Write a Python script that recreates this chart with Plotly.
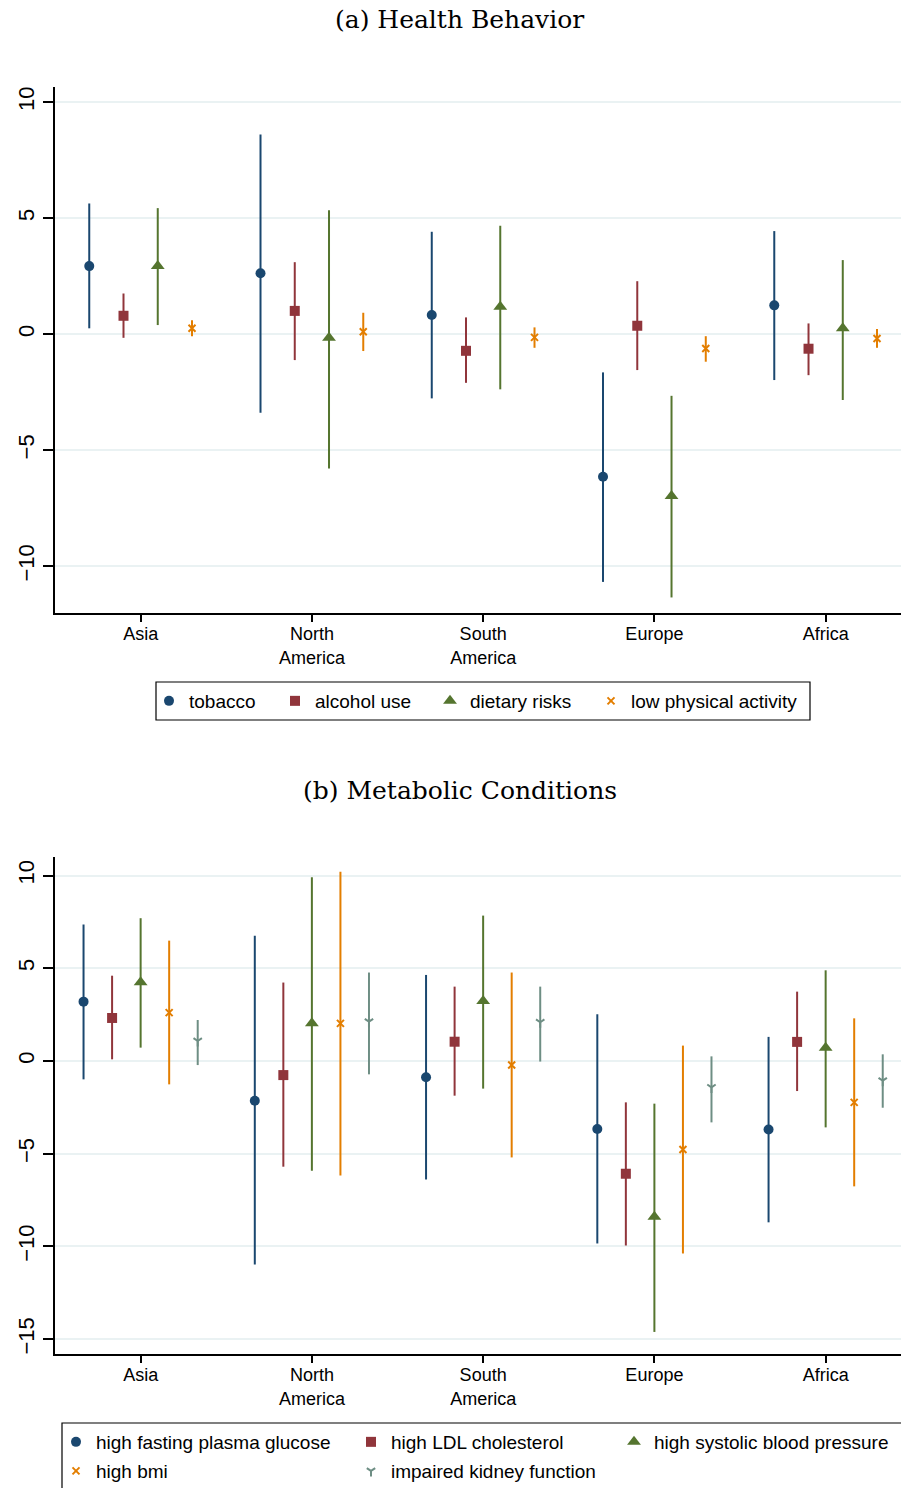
import numpy as np
import plotly.graph_objects as go

# ---------------- data ----------------
regions = ["Asia", "North<br>America", "South<br>America", "Europe", "Africa"]

# (a) Health Behavior
tobacco_est = [2.93, 2.62, 0.82, -6.15, 1.24]
tobacco_lo = [0.25, -3.39, -2.77, -10.68, -1.98]
tobacco_hi = [5.63, 8.60, 4.41, -1.65, 4.44]
alcohol_est = [0.79, 1.00, -0.72, 0.36, -0.63]
alcohol_lo = [-0.16, -1.12, -2.10, -1.55, -1.77]
alcohol_hi = [1.75, 3.10, 0.72, 2.28, 0.46]
dietary_est = [2.93, -0.16, 1.18, -6.98, 0.25]
dietary_lo = [0.39, -5.79, -2.38, -11.35, -2.84]
dietary_hi = [5.43, 5.34, 4.67, -2.66, 3.19]
activity_est = [0.25, 0.10, -0.14, -0.62, -0.19]
activity_lo = [-0.09, -0.73, -0.59, -1.19, -0.59]
activity_hi = [0.60, 0.92, 0.29, -0.09, 0.22]

# (b) Metabolic Conditions
glucose_est = [3.20, -2.14, -0.88, -3.67, -3.69]
glucose_lo = [-0.99, -10.97, -6.39, -9.84, -8.70]
glucose_hi = [7.36, 6.75, 4.64, 2.52, 1.30]
ldl_est = [2.32, -0.76, 1.04, -6.08, 1.03]
ldl_lo = [0.09, -5.70, -1.87, -9.95, -1.62]
ldl_hi = [4.60, 4.23, 4.01, -2.23, 3.74]
sbp_est = [4.25, 2.03, 3.24, -8.40, 0.72]
sbp_lo = [0.72, -5.92, -1.49, -14.61, -3.58]
sbp_hi = [7.70, 9.91, 7.84, -2.30, 4.89]
bmi_est = [2.61, 2.03, -0.22, -4.77, -2.23]
bmi_lo = [-1.26, -6.17, -5.20, -10.38, -6.76]
bmi_hi = [6.49, 10.20, 4.77, 0.83, 2.30]
kidney_est = [1.08, 2.12, 2.09, -1.42, -1.06]
kidney_lo = [-0.22, -0.72, -0.03, -3.31, -2.52]
kidney_hi = [2.21, 4.77, 4.01, 0.25, 0.36]

# ---------------- styles ----------------
NAVY = "#1a476f"
MAROON = "#90353b"
GREEN = "#55752f"
ORANGE = "#e37e00"
TEAL = "#6e8e84"
REF = "#a8d8e6"
GRID = "#eaf2f3"
SANS = "Liberation Sans, Arial, sans-serif"
SERIF = "DejaVu Serif, serif"

W, H = 901, 1488
base = np.arange(1, len(regions) + 1)

fig = go.Figure()


def add_series(name, est, lo, hi, offset, color, symbol, size, xa, ya, legend, lw,
               line_sym=False):
    est = np.array(est)
    lo = np.array(lo)
    hi = np.array(hi)
    marker = dict(color=color, symbol=symbol, size=size)
    if line_sym:
        marker["line"] = dict(color=color, width=2)
    else:
        marker["line"] = dict(width=0)
    fig.add_trace(go.Scatter(
        x=base + offset, y=est, mode="markers", name=name,
        marker=marker,
        error_y=dict(type="data", symmetric=False, array=hi - est,
                     arrayminus=est - lo, thickness=2, width=0, color=color),
        xaxis=xa, yaxis=ya, legend=legend, legendwidth=lw,
        hoverinfo="skip",
    ))


# top panel
add_series("tobacco", tobacco_est, tobacco_lo, tobacco_hi, -0.3, NAVY, "circle", 10, "x", "y", "legend", 81)
add_series("alcohol use", alcohol_est, alcohol_lo, alcohol_hi, -0.1, MAROON, "square", 10, "x", "y", "legend", 110)
add_series("dietary risks", dietary_est, dietary_lo, dietary_hi, 0.1, GREEN, "triangle-up", 12, "x", "y", "legend", 116)
add_series("low physical activity", activity_est, activity_lo, activity_hi, 0.3, ORANGE, "x-thin", 7, "x", "y", "legend", 175, True)

# bottom panel
add_series("high fasting plasma glucose", glucose_est, glucose_lo, glucose_hi, -1/3, NAVY, "circle", 10, "x2", "y2", "legend2", 250)
add_series("high LDL cholesterol", ldl_est, ldl_lo, ldl_hi, -1/6, MAROON, "square", 10, "x2", "y2", "legend2", 218)
add_series("high systolic blood pressure", sbp_est, sbp_lo, sbp_hi, 0.0, GREEN, "triangle-up", 12, "x2", "y2", "legend2", 240)
add_series("high bmi", bmi_est, bmi_lo, bmi_hi, 1/6, ORANGE, "x-thin", 7, "x2", "y2", "legend3", 250, True)
add_series("impaired kidney function", kidney_est, kidney_lo, kidney_hi, 1/3, TEAL, "y-down", 7, "x2", "y2", "legend3", 218, True)

xdom = [55 / W, 1.0]
y1dom = [1 - 613 / H, 1 - 87 / H]
y2dom = [1 - 1354 / H, 1 - 857 / H]

xcommon = dict(range=[0.5, 5.44], tickmode="array", tickvals=list(base), ticktext=regions,
               showline=True, linecolor="black", linewidth=1.5, ticks="outside",
               ticklen=7, tickwidth=1.5, tickcolor="black", showgrid=False, zeroline=False,
               ticklabelstandoff=-3,
               tickfont=dict(family=SANS, size=18, color="black"), domain=xdom)
ycommon = dict(tickmode="array", tickvals=[-15, -10, -5, 0, 5, 10],
               showline=True, linecolor="black", linewidth=1.5, ticks="outside",
               ticklen=10, tickwidth=1.5, tickcolor="black", showgrid=True, gridcolor=GRID,
               gridwidth=2, zeroline=False, tickangle=-90,
               tickfont=dict(family=SANS, size=22, color="black"))

LEGFONT = dict(family=SANS, size=19, color="black")

fig.update_layout(
    width=W, height=H,
    margin=dict(l=0, r=0, t=0, b=0, autoexpand=False),
    paper_bgcolor="white", plot_bgcolor="white",
    xaxis=dict(**xcommon, anchor="y"),
    yaxis=dict(**ycommon, range=[-12.02, 10.65], domain=y1dom, anchor="x"),
    xaxis2=dict(**xcommon, anchor="y2"),
    yaxis2=dict(**ycommon, range=[-15.8, 11.0], domain=y2dom, anchor="x2"),
    legend=dict(orientation="h", x=(169 - 20) / W, xanchor="left", y=1 - 682 / H, yanchor="top",
                bgcolor="rgba(0,0,0,0)", borderwidth=0, font=LEGFONT),
    legend2=dict(orientation="h", x=(76 - 20) / W, xanchor="left", y=1 - 1423 / H, yanchor="top",
                 bgcolor="rgba(0,0,0,0)", borderwidth=0, font=LEGFONT),
    legend3=dict(orientation="h", x=(76 - 20) / W, xanchor="left", y=1 - 1452 / H, yanchor="top",
                 bgcolor="rgba(0,0,0,0)", borderwidth=0, font=LEGFONT),
    showlegend=True,
)

# reference lines at zero
for yref, xref in [("y", "x domain"), ("y2", "x2 domain")]:
    fig.add_shape(type="line", xref=xref, yref=yref, x0=0, x1=1, y0=0, y1=0,
                  line=dict(color=REF, width=2, dash="13px,7px"), layer="below")

# legend boxes
fig.add_shape(type="rect", xref="paper", yref="paper", x0=156 / W, x1=810 / W,
              y0=1 - 720 / H, y1=1 - 682 / H, line=dict(color="black", width=1.2))
fig.add_shape(type="rect", xref="paper", yref="paper", x0=62 / W, x1=1.02,
              y0=-0.02, y1=1 - 1423 / H, line=dict(color="black", width=1.2))

# panel titles
fig.add_annotation(text="(a) Health Behavior", xref="paper", yref="paper", x=459.5 / W,
                   y=1 - 20 / H, xanchor="center", yanchor="middle", showarrow=False,
                   font=dict(family=SERIF, size=25, color="black"))
fig.add_annotation(text="(b) Metabolic Conditions", xref="paper", yref="paper", x=459.5 / W,
                   y=1 - 790 / H, xanchor="center", yanchor="middle", showarrow=False,
                   font=dict(family=SERIF, size=25, color="black"))

fig.write_html("out.html")
